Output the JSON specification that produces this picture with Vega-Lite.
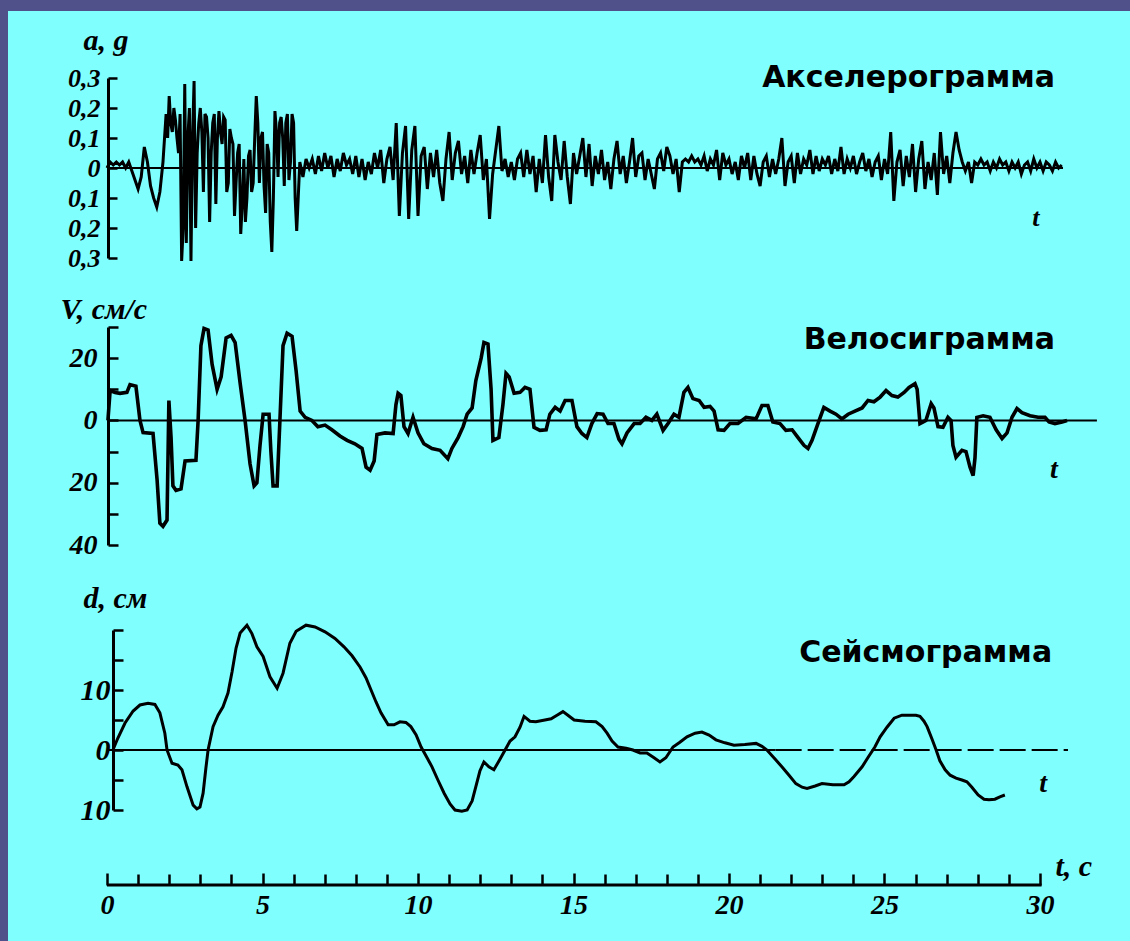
{
"$schema": "https://vega.github.io/schema/vega-lite/v6.json",
"autosize": "none",
"width": 1122,
"height": 930,
"padding": {"left": 8, "top": 11, "right": 0, "bottom": 0},
"background": "#50508a",
"config": {
  "locale": {"number": {"decimal": ",", "thousands": " ", "grouping": [3], "currency": ["", ""], "minus": ""}},
  "view": {"fill": "#80ffff", "stroke": null},
  "axis": {"domainColor": "black", "tickColor": "black", "labelColor": "black", "titleColor": "black", "grid": false,
    "labelFont": "Liberation Serif", "labelFontStyle": "italic", "labelFontWeight": "bold",
    "titleFont": "Liberation Serif", "titleFontStyle": "italic", "titleFontWeight": "bold",
    "domainWidth": 3, "tickWidth": 2.5}
},
"datasets": {
"acc": [
{"t":0,"a":0},{"t":0.1,"a":0.02},{"t":0.2,"a":0.01},{"t":0.3,"a":0.02},{"t":0.4,"a":0.01},{"t":0.5,"a":0.02},{"t":0.6,"a":0},{"t":0.7,"a":0.02},{"t":0.8,"a":-0.01},{"t":0.9,"a":-0.04},
{"t":1.0,"a":-0.07},{"t":1.1,"a":-0.03},{"t":1.2,"a":0.07},{"t":1.3,"a":0.02},{"t":1.4,"a":-0.06},{"t":1.5,"a":-0.1},{"t":1.6,"a":-0.13},{"t":1.7,"a":-0.08},{"t":1.8,"a":0.02},{"t":1.9,"a":0.18},
{"t":1.95,"a":0.1},{"t":2.0,"a":0.24},{"t":2.05,"a":0.15},{"t":2.1,"a":0.12},{"t":2.15,"a":0.2},{"t":2.2,"a":0.16},{"t":2.25,"a":0.1},{"t":2.3,"a":0.05},{"t":2.35,"a":0.18},{"t":2.4,"a":-0.31},{"t":2.45,"a":-0.2},
{"t":2.5,"a":0.28},{"t":2.55,"a":-0.25},{"t":2.6,"a":0.1},{"t":2.65,"a":0.2},{"t":2.7,"a":-0.31},{"t":2.75,"a":0.1},{"t":2.8,"a":0.29},{"t":2.85,"a":-0.2},{"t":2.9,"a":0.05},{"t":2.95,"a":0.15},
{"t":3.0,"a":0.2},{"t":3.05,"a":0.12},{"t":3.1,"a":-0.08},{"t":3.15,"a":0.18},{"t":3.2,"a":0.17},{"t":3.25,"a":0.1},{"t":3.3,"a":-0.18},{"t":3.35,"a":0.05},{"t":3.4,"a":0.15},{"t":3.45,"a":0.18},
{"t":3.5,"a":-0.12},{"t":3.55,"a":0.1},{"t":3.6,"a":0.19},{"t":3.65,"a":0.12},{"t":3.7,"a":0.08},{"t":3.75,"a":0.17},{"t":3.8,"a":0.16},{"t":3.85,"a":-0.08},{"t":3.9,"a":-0.05},{"t":3.95,"a":0.13},
{"t":4.0,"a":0.1},{"t":4.05,"a":0.08},{"t":4.1,"a":-0.16},{"t":4.15,"a":-0.05},{"t":4.2,"a":0.05},{"t":4.25,"a":0.08},{"t":4.3,"a":-0.22},{"t":4.35,"a":-0.12},{"t":4.4,"a":0.03},{"t":4.45,"a":-0.18},
{"t":4.5,"a":-0.1},{"t":4.55,"a":0.04},{"t":4.6,"a":0.06},{"t":4.65,"a":-0.08},{"t":4.7,"a":-0.05},{"t":4.75,"a":0.1},{"t":4.8,"a":0.24},{"t":4.85,"a":0.15},{"t":4.9,"a":-0.05},{"t":4.95,"a":0.1},
{"t":5.0,"a":0.12},{"t":5.05,"a":-0.06},{"t":5.1,"a":-0.15},{"t":5.15,"a":0.08},{"t":5.2,"a":0.05},{"t":5.25,"a":-0.18},{"t":5.3,"a":-0.28},{"t":5.35,"a":-0.1},{"t":5.4,"a":0.19},{"t":5.45,"a":0.12},
{"t":5.5,"a":-0.03},{"t":5.55,"a":0.15},{"t":5.6,"a":0.17},{"t":5.65,"a":0.1},{"t":5.7,"a":-0.06},{"t":5.75,"a":0.15},{"t":5.8,"a":0.18},{"t":5.85,"a":-0.04},{"t":5.9,"a":0.02},{"t":5.95,"a":0.18},
{"t":6.0,"a":0.15},{"t":6.05,"a":-0.1},{"t":6.1,"a":-0.21},{"t":6.2,"a":0.02},{"t":6.3,"a":-0.03},{"t":6.4,"a":0.03},{"t":6.5,"a":0},{"t":6.6,"a":0.03},{"t":6.7,"a":-0.02},{"t":6.8,"a":0.04},{"t":6.9,"a":-0.01},
{"t":7.0,"a":0.05},{"t":7.1,"a":0},{"t":7.2,"a":0.04},{"t":7.3,"a":-0.03},{"t":7.4,"a":0.03},{"t":7.5,"a":-0.01},{"t":7.6,"a":0.05},{"t":7.7,"a":0.01},{"t":7.8,"a":0.03},{"t":7.9,"a":-0.02},
{"t":8.0,"a":0.04},{"t":8.1,"a":-0.03},{"t":8.2,"a":0.03},{"t":8.3,"a":-0.04},{"t":8.4,"a":0.02},{"t":8.5,"a":-0.02},{"t":8.6,"a":0.05},{"t":8.7,"a":0},{"t":8.8,"a":0.06},{"t":8.9,"a":-0.05},
{"t":9.0,"a":0.03},{"t":9.1,"a":0.07},{"t":9.2,"a":-0.04},{"t":9.3,"a":0.15},{"t":9.4,"a":-0.16},{"t":9.5,"a":0.05},{"t":9.6,"a":0.14},{"t":9.7,"a":-0.17},{"t":9.8,"a":0.06},{"t":9.9,"a":0.14},
{"t":10.0,"a":-0.16},{"t":10.1,"a":0.04},{"t":10.2,"a":0.07},{"t":10.3,"a":-0.07},{"t":10.4,"a":0.05},{"t":10.5,"a":-0.03},{"t":10.6,"a":0.06},{"t":10.7,"a":-0.05},{"t":10.8,"a":-0.11},{"t":10.9,"a":0.03},
{"t":11.0,"a":0.12},{"t":11.1,"a":-0.04},{"t":11.2,"a":0.05},{"t":11.3,"a":0.09},{"t":11.4,"a":-0.02},{"t":11.5,"a":0.04},{"t":11.6,"a":-0.05},{"t":11.7,"a":0.06},{"t":11.8,"a":-0.02},{"t":11.9,"a":0.05},
{"t":12.0,"a":0.11},{"t":12.1,"a":-0.04},{"t":12.2,"a":0.03},{"t":12.3,"a":-0.17},{"t":12.4,"a":-0.02},{"t":12.5,"a":0.06},{"t":12.6,"a":0.14},{"t":12.7,"a":-0.01},{"t":12.8,"a":0.03},{"t":12.9,"a":-0.03},
{"t":13.0,"a":0.02},{"t":13.1,"a":-0.04},{"t":13.2,"a":0.03},{"t":13.3,"a":0.05},{"t":13.4,"a":-0.03},{"t":13.5,"a":0.06},{"t":13.6,"a":-0.02},{"t":13.7,"a":0.04},{"t":13.8,"a":-0.08},{"t":13.9,"a":0.03},
{"t":14.0,"a":-0.05},{"t":14.1,"a":0.11},{"t":14.2,"a":-0.03},{"t":14.3,"a":-0.11},{"t":14.4,"a":0.11},{"t":14.5,"a":0.02},{"t":14.6,"a":-0.04},{"t":14.7,"a":0.09},{"t":14.8,"a":-0.03},{"t":14.9,"a":-0.12},
{"t":15.0,"a":0.05},{"t":15.1,"a":-0.02},{"t":15.2,"a":0.04},{"t":15.3,"a":0.1},{"t":15.4,"a":-0.03},{"t":15.5,"a":0.08},{"t":15.6,"a":-0.06},{"t":15.7,"a":0.04},{"t":15.8,"a":-0.02},{"t":15.9,"a":0.06},
{"t":16.0,"a":-0.04},{"t":16.1,"a":0.02},{"t":16.2,"a":-0.07},{"t":16.3,"a":0.03},{"t":16.4,"a":0.09},{"t":16.5,"a":-0.02},{"t":16.6,"a":0.04},{"t":16.7,"a":-0.05},{"t":16.8,"a":0.02},{"t":16.9,"a":0.1},
{"t":17.0,"a":-0.03},{"t":17.1,"a":0.04},{"t":17.2,"a":0.05},{"t":17.3,"a":-0.04},{"t":17.4,"a":0.03},{"t":17.5,"a":-0.02},{"t":17.6,"a":-0.07},{"t":17.7,"a":0.03},{"t":17.8,"a":0.05},{"t":17.9,"a":-0.01},
{"t":18.0,"a":0.07},{"t":18.1,"a":0.04},{"t":18.2,"a":-0.02},{"t":18.3,"a":0.03},{"t":18.4,"a":-0.08},{"t":18.5,"a":0.02},{"t":18.6,"a":0.03},{"t":18.7,"a":0.02},{"t":18.8,"a":0.04},{"t":18.9,"a":0.02},
{"t":19.0,"a":0.03},{"t":19.1,"a":0.01},{"t":19.2,"a":0.04},{"t":19.3,"a":-0.01},{"t":19.4,"a":0.03},{"t":19.5,"a":0.01},{"t":19.6,"a":0.06},{"t":19.7,"a":-0.04},{"t":19.8,"a":0.05},{"t":19.9,"a":0.01},
{"t":20.0,"a":0.03},{"t":20.1,"a":-0.02},{"t":20.2,"a":0.02},{"t":20.3,"a":-0.04},{"t":20.4,"a":0.04},{"t":20.5,"a":0},{"t":20.6,"a":0.05},{"t":20.7,"a":-0.04},{"t":20.8,"a":0.04},{"t":20.9,"a":-0.02},
{"t":21.0,"a":-0.06},{"t":21.1,"a":0.02},{"t":21.2,"a":0.04},{"t":21.3,"a":-0.03},{"t":21.4,"a":0.03},{"t":21.5,"a":-0.02},{"t":21.6,"a":0.03},{"t":21.7,"a":0.1},{"t":21.8,"a":-0.06},{"t":21.9,"a":0.02},
{"t":22.0,"a":0.04},{"t":22.1,"a":-0.05},{"t":22.2,"a":0.05},{"t":22.3,"a":-0.02},{"t":22.4,"a":0.03},{"t":22.5,"a":0.01},{"t":22.6,"a":0.06},{"t":22.7,"a":-0.02},{"t":22.8,"a":0.04},{"t":22.9,"a":-0.01},
{"t":23.0,"a":0.03},{"t":23.1,"a":0.01},{"t":23.2,"a":0.04},{"t":23.3,"a":-0.02},{"t":23.4,"a":0.03},{"t":23.5,"a":-0.01},{"t":23.6,"a":0.07},{"t":23.7,"a":-0.02},{"t":23.8,"a":0.03},{"t":23.9,"a":0},
{"t":24.0,"a":0.04},{"t":24.1,"a":-0.02},{"t":24.2,"a":0.02},{"t":24.3,"a":0.05},{"t":24.4,"a":-0.01},{"t":24.5,"a":0.03},{"t":24.6,"a":-0.03},{"t":24.7,"a":0.02},{"t":24.8,"a":0.04},{"t":24.9,"a":-0.04},
{"t":25.0,"a":0.03},{"t":25.1,"a":-0.02},{"t":25.2,"a":0.12},{"t":25.3,"a":-0.11},{"t":25.4,"a":0.02},{"t":25.5,"a":0.06},{"t":25.6,"a":-0.06},{"t":25.7,"a":0.04},{"t":25.8,"a":-0.03},{"t":25.9,"a":0.08},
{"t":26.0,"a":-0.08},{"t":26.1,"a":0.03},{"t":26.2,"a":0.09},{"t":26.3,"a":-0.07},{"t":26.4,"a":0.02},{"t":26.5,"a":-0.04},{"t":26.6,"a":0.05},{"t":26.7,"a":-0.09},{"t":26.8,"a":0.12},{"t":26.9,"a":-0.02},
{"t":27.0,"a":0.04},{"t":27.1,"a":-0.05},{"t":27.2,"a":0.05},{"t":27.3,"a":0.12},{"t":27.4,"a":0.06},{"t":27.5,"a":0.02},{"t":27.6,"a":-0.01},{"t":27.7,"a":0.02},{"t":27.8,"a":-0.05},{"t":27.9,"a":0.02},
{"t":28.0,"a":0.01},{"t":28.1,"a":0.03},{"t":28.2,"a":0.01},{"t":28.3,"a":0.02},{"t":28.4,"a":-0.01},{"t":28.5,"a":0.02},{"t":28.6,"a":0},{"t":28.7,"a":0.03},{"t":28.8,"a":0.01},{"t":28.9,"a":0.02},
{"t":29.0,"a":-0.01},{"t":29.1,"a":0.02},{"t":29.2,"a":0},{"t":29.3,"a":0.02},{"t":29.4,"a":-0.02},{"t":29.5,"a":0.01},{"t":29.6,"a":0.02},{"t":29.7,"a":-0.01},{"t":29.8,"a":0.03},{"t":29.9,"a":0},
{"t":30.0,"a":0.02},{"t":30.1,"a":-0.01},{"t":30.2,"a":0.02},{"t":30.3,"a":0.01},{"t":30.4,"a":-0.01},{"t":30.5,"a":0.02},{"t":30.6,"a":0},{"t":30.7,"a":0.01}
],
"vel": [
{"t":0.03,"v":0},{"t":0.1,"v":9.6},{"t":0.26,"v":9},{"t":0.42,"v":8.7},{"t":0.64,"v":9},{"t":0.74,"v":11.5},{"t":0.93,"v":11},{"t":1.06,"v":0},{"t":1.16,"v":-3.9},{"t":1.48,"v":-4.2},
{"t":1.61,"v":-19},{"t":1.7,"v":-33},{"t":1.8,"v":-34},{"t":1.93,"v":-32},{"t":1.99,"v":6.4},{"t":2.06,"v":-5.5},{"t":2.12,"v":-21},{"t":2.22,"v":-22.5},{"t":2.38,"v":-22},{"t":2.51,"v":-13},
{"t":2.86,"v":-12.8},{"t":2.93,"v":0},{"t":3.02,"v":24},{"t":3.12,"v":29.5},{"t":3.25,"v":29},{"t":3.38,"v":18},{"t":3.54,"v":10},{"t":3.67,"v":14},{"t":3.83,"v":26.5},{"t":3.99,"v":27.3},
{"t":4.12,"v":25},{"t":4.28,"v":12},{"t":4.44,"v":0},{"t":4.6,"v":-14},{"t":4.73,"v":-21},{"t":4.82,"v":-20},{"t":4.92,"v":-8},{"t":5.02,"v":2},{"t":5.21,"v":2},{"t":5.27,"v":-10},
{"t":5.34,"v":-21},{"t":5.47,"v":-21},{"t":5.56,"v":0},{"t":5.66,"v":24},{"t":5.79,"v":28},{"t":5.95,"v":27},{"t":6.08,"v":16},{"t":6.21,"v":3},{"t":6.37,"v":1},{"t":6.59,"v":0},
{"t":6.78,"v":-2},{"t":7.01,"v":-1.5},{"t":7.23,"v":-3},{"t":7.49,"v":-5},{"t":7.72,"v":-6.4},{"t":7.97,"v":-7.5},{"t":8.2,"v":-9},{"t":8.33,"v":-15},{"t":8.46,"v":-16},{"t":8.59,"v":-13},
{"t":8.68,"v":-4.5},{"t":8.94,"v":-4},{"t":9.2,"v":-4.2},{"t":9.29,"v":5},{"t":9.36,"v":8.7},{"t":9.45,"v":8},{"t":9.55,"v":-2},{"t":9.68,"v":-4.2},{"t":9.84,"v":1},{"t":10.0,"v":-4},
{"t":10.19,"v":-7.5},{"t":10.45,"v":-9},{"t":10.71,"v":-9.6},{"t":10.96,"v":-12.3},{"t":11.09,"v":-9},{"t":11.29,"v":-5.5},{"t":11.45,"v":-2},{"t":11.58,"v":2},{"t":11.74,"v":4},{"t":11.86,"v":12.8},
{"t":12.03,"v":20},{"t":12.12,"v":25},{"t":12.25,"v":24.5},{"t":12.35,"v":10},{"t":12.41,"v":-6.4},{"t":12.6,"v":-5.5},{"t":12.73,"v":5},{"t":12.83,"v":15.1},{"t":12.93,"v":14},{"t":13.09,"v":8.7},
{"t":13.28,"v":9},{"t":13.44,"v":10.6},{"t":13.6,"v":10},{"t":13.73,"v":-2.2},{"t":13.92,"v":-3.2},{"t":14.12,"v":-3},{"t":14.24,"v":2},{"t":14.41,"v":4.2},{"t":14.57,"v":3},{"t":14.73,"v":6.4},
{"t":14.95,"v":6.4},{"t":15.11,"v":-2},{"t":15.27,"v":-4.2},{"t":15.43,"v":-5.5},{"t":15.59,"v":-1},{"t":15.76,"v":2.2},{"t":15.95,"v":2},{"t":16.11,"v":-1},{"t":16.3,"v":-1},{"t":16.46,"v":-6},
{"t":16.56,"v":-7.5},{"t":16.72,"v":-4},{"t":16.95,"v":-1},{"t":17.14,"v":-1},{"t":17.33,"v":1},{"t":17.52,"v":0},{"t":17.68,"v":2},{"t":17.88,"v":-3.2},{"t":18.04,"v":-1},{"t":18.23,"v":2},
{"t":18.39,"v":1},{"t":18.55,"v":9},{"t":18.68,"v":10.6},{"t":18.84,"v":7},{"t":19.04,"v":6.4},{"t":19.2,"v":4.2},{"t":19.39,"v":4.5},{"t":19.52,"v":3},{"t":19.65,"v":-3},{"t":19.84,"v":-3.2},
{"t":20.03,"v":-1},{"t":20.29,"v":-1},{"t":20.55,"v":1},{"t":20.87,"v":0.5},{"t":21.06,"v":4.8},{"t":21.25,"v":4.8},{"t":21.41,"v":-0.5},{"t":21.64,"v":-1},{"t":21.83,"v":-3.2},{"t":22.03,"v":-3},
{"t":22.22,"v":-5.5},{"t":22.41,"v":-8},{"t":22.54,"v":-9},{"t":22.67,"v":-6.4},{"t":22.86,"v":-1},{"t":23.05,"v":4.2},{"t":23.25,"v":3},{"t":23.44,"v":2},{"t":23.63,"v":0.5},{"t":23.83,"v":2},
{"t":24.05,"v":3},{"t":24.28,"v":4},{"t":24.47,"v":6.4},{"t":24.66,"v":6},{"t":24.86,"v":7.5},{"t":25.05,"v":9.6},{"t":25.24,"v":8},{"t":25.43,"v":7.5},{"t":25.63,"v":9},{"t":25.79,"v":10.6},
{"t":25.98,"v":11.8},{"t":26.05,"v":10},{"t":26.14,"v":-1},{"t":26.33,"v":0},{"t":26.5,"v":5.4},{"t":26.59,"v":4},{"t":26.72,"v":-2},{"t":26.88,"v":-2.2},{"t":27.04,"v":1},{"t":27.14,"v":0},
{"t":27.2,"v":-8},{"t":27.3,"v":-11.8},{"t":27.49,"v":-9.6},{"t":27.62,"v":-10},{"t":27.75,"v":-15},{"t":27.85,"v":-17.7},{"t":27.91,"v":-12},{"t":27.97,"v":1},{"t":28.17,"v":1.5},{"t":28.39,"v":1},
{"t":28.59,"v":-3},{"t":28.78,"v":-5.8},{"t":28.94,"v":-4},{"t":29.1,"v":1},{"t":29.26,"v":3.8},{"t":29.42,"v":2.5},{"t":29.68,"v":1.5},{"t":29.94,"v":1},{"t":30.16,"v":1},{"t":30.29,"v":-0.5},
{"t":30.48,"v":-1},{"t":30.71,"v":-0.5},{"t":30.87,"v":0}
],
"dis": [
{"t":0.19,"d":0},{"t":0.35,"d":2},{"t":0.58,"d":4.5},{"t":0.84,"d":6.5},{"t":1.06,"d":7.5},{"t":1.32,"d":7.8},{"t":1.54,"d":7.6},{"t":1.7,"d":6.2},{"t":1.86,"d":2.8},{"t":1.93,"d":0},
{"t":2.09,"d":-2.2},{"t":2.28,"d":-2.5},{"t":2.41,"d":-3.3},{"t":2.57,"d":-6.1},{"t":2.77,"d":-9.2},{"t":2.89,"d":-9.8},{"t":2.99,"d":-9.5},{"t":3.09,"d":-7.2},{"t":3.18,"d":-3},{"t":3.25,"d":0},
{"t":3.41,"d":3.9},{"t":3.57,"d":5.8},{"t":3.73,"d":7.2},{"t":3.89,"d":9.5},{"t":4.02,"d":13},{"t":4.15,"d":17},{"t":4.28,"d":19.5},{"t":4.5,"d":20.8},{"t":4.66,"d":19.4},{"t":4.82,"d":17.2},
{"t":5.02,"d":15.6},{"t":5.24,"d":12.2},{"t":5.47,"d":10.3},{"t":5.66,"d":12.8},{"t":5.88,"d":17.8},{"t":6.08,"d":19.8},{"t":6.4,"d":20.8},{"t":6.69,"d":20.5},{"t":7.01,"d":19.7},{"t":7.33,"d":18.6},
{"t":7.62,"d":17.2},{"t":7.88,"d":15.7},{"t":8.14,"d":13.8},{"t":8.33,"d":12},{"t":8.49,"d":10},{"t":8.65,"d":8},{"t":8.81,"d":6.2},{"t":9.04,"d":4.2},{"t":9.23,"d":4.2},{"t":9.42,"d":4.7},
{"t":9.61,"d":4.6},{"t":9.77,"d":3.9},{"t":9.94,"d":2.5},{"t":10.1,"d":0.5},{"t":10.26,"d":-1},{"t":10.45,"d":-2.8},{"t":10.64,"d":-5},{"t":10.84,"d":-7.2},{"t":11.03,"d":-9},{"t":11.19,"d":-10},
{"t":11.41,"d":-10.2},{"t":11.58,"d":-10},{"t":11.74,"d":-8.5},{"t":11.86,"d":-6.1},{"t":11.99,"d":-3.5},{"t":12.12,"d":-2},{"t":12.28,"d":-2.8},{"t":12.44,"d":-3.3},{"t":12.64,"d":-1.5},{"t":12.8,"d":0},
{"t":12.96,"d":1.5},{"t":13.12,"d":2.2},{"t":13.28,"d":3.8},{"t":13.41,"d":5.6},{"t":13.6,"d":4.8},{"t":13.79,"d":4.7},{"t":14.08,"d":5},{"t":14.28,"d":5.2},{"t":14.47,"d":5.8},{"t":14.66,"d":6.4},
{"t":14.82,"d":5.8},{"t":15.02,"d":5},{"t":15.37,"d":4.8},{"t":15.72,"d":4.7},{"t":15.92,"d":3.9},{"t":16.08,"d":2.8},{"t":16.24,"d":1.5},{"t":16.43,"d":0.5},{"t":16.69,"d":0.3},{"t":16.91,"d":0},
{"t":17.14,"d":-0.5},{"t":17.36,"d":-0.5},{"t":17.59,"d":-1.3},{"t":17.78,"d":-2},{"t":17.97,"d":-1.3},{"t":18.2,"d":0.5},{"t":18.42,"d":1.3},{"t":18.65,"d":2.2},{"t":18.91,"d":2.8},{"t":19.13,"d":3},
{"t":19.36,"d":2.5},{"t":19.58,"d":1.7},{"t":19.87,"d":1.2},{"t":20.16,"d":0.8},{"t":20.51,"d":0.9},{"t":20.87,"d":1.1},{"t":21.06,"d":0.6},{"t":21.22,"d":0},{"t":21.48,"d":-1.5},{"t":21.7,"d":-2.8},
{"t":21.93,"d":-4.2},{"t":22.15,"d":-5.6},{"t":22.35,"d":-6.2},{"t":22.51,"d":-6.4},{"t":22.77,"d":-6},{"t":22.99,"d":-5.6},{"t":23.34,"d":-5.8},{"t":23.7,"d":-5.8},{"t":23.86,"d":-5.3},{"t":24.02,"d":-4.4},
{"t":24.28,"d":-2.8},{"t":24.5,"d":-1},{"t":24.69,"d":0.5},{"t":24.86,"d":2.2},{"t":25.08,"d":3.8},{"t":25.31,"d":5.3},{"t":25.56,"d":5.8},{"t":25.79,"d":5.8},{"t":26.01,"d":5.8},{"t":26.14,"d":5.6},
{"t":26.27,"d":4.8},{"t":26.37,"d":3.9},{"t":26.53,"d":1.8},{"t":26.66,"d":0},{"t":26.78,"d":-1.8},{"t":26.95,"d":-3.3},{"t":27.11,"d":-4.2},{"t":27.3,"d":-4.7},{"t":27.49,"d":-5},{"t":27.65,"d":-5.3},
{"t":27.81,"d":-6.2},{"t":28.01,"d":-7.5},{"t":28.2,"d":-8.2},{"t":28.36,"d":-8.3},{"t":28.55,"d":-8.2},{"t":28.71,"d":-7.8},{"t":28.87,"d":-7.5}
]
},
"layer": [
 {"layer": [
  {"data": {"name": "acc"},
   "mark": {"type": "line", "color": "black", "strokeWidth": 3},
   "encoding": {
    "x": {"field": "t", "type": "quantitative", "scale": {"domain": [-3.1833, 32.8939], "nice": false, "zero": false},
      "axis": {"orient": "bottom", "offset": -56, "values": [0,5,10,15,20,25,30], "domain": false, "labelFlush": false, "labelOverlap": false,
        "format": "d", "tickSize": -12, "labelFontSize": 28, "labelPadding": 18,
        "title": "t, с", "titleFontSize": 30, "titleAngle": 0, "titleAlign": "left", "titleBaseline": "middle", "titleX": 1047, "titleY": -19}},
    "y": {"field": "a", "type": "quantitative", "scale": {"domain": [-0.3, 0.3], "range": [247, 67], "nice": false, "zero": false},
      "axis": {"orient": "left", "offset": -100, "values": [-0.3,-0.2,-0.1,0,0.1,0.2,0.3], "format": ".1~f",
        "tickSize": -9, "labelFontSize": 26, "labelPadding": 17,
        "title": "a, g", "titleFontSize": 30, "titleAngle": 0, "titleAlign": "left", "titleBaseline": "middle", "titleX": -25, "titleY": 29}}
   }},
  {"data": {"values": [{}]},
   "mark": {"type": "rule", "color": "black", "strokeWidth": 2},
   "encoding": {
    "x": {"datum": 0, "type": "quantitative", "scale": {"domain": [-3.1833, 32.8939], "nice": false, "zero": false}, "axis": null},
    "x2": {"datum": 30.74},
    "y": {"datum": 0, "type": "quantitative", "scale": {"domain": [-0.3, 0.3], "range": [247, 67], "nice": false, "zero": false}, "axis": null}
   }},
  {"data": {"values": [{}]},
   "mark": {"type": "text", "align": "right", "baseline": "middle", "font": "DejaVu Sans", "fontWeight": "bold", "fontSize": 30, "color": "black"},
   "encoding": {
    "x": {"datum": 30.48, "type": "quantitative", "scale": {"domain": [-3.1833, 32.8939], "nice": false, "zero": false}, "axis": null},
    "y": {"datum": 0.3, "type": "quantitative", "scale": {"domain": [-0.3, 0.3], "range": [247, 67], "nice": false, "zero": false}, "axis": null},
    "text": {"value": "Акселерограмма"}
   }},
  {"data": {"values": [{}]},
   "mark": {"type": "text", "align": "center", "baseline": "middle", "font": "Liberation Serif", "fontStyle": "italic", "fontWeight": "bold", "fontSize": 26, "color": "black"},
   "encoding": {
    "x": {"datum": 29.87, "type": "quantitative", "scale": {"domain": [-3.1833, 32.8939], "nice": false, "zero": false}, "axis": null},
    "y": {"datum": -0.167, "type": "quantitative", "scale": {"domain": [-0.3, 0.3], "range": [247, 67], "nice": false, "zero": false}, "axis": null},
    "text": {"value": "t"}
   }}
 ], "resolve": {"axis": {"x": "independent", "y": "independent"}}},
 {"layer": [
  {"data": {"name": "vel"},
   "mark": {"type": "line", "color": "black", "strokeWidth": 3.6},
   "encoding": {
    "x": {"field": "t", "type": "quantitative", "scale": {"domain": [-3.1833, 32.8939], "nice": false, "zero": false},
      "axis": {"orient": "bottom", "offset": -56, "values": [1,2,3,4,6,7,8,9,11,12,13,14,16,17,18,19,21,22,23,24,26,27,28,29],
        "labels": false, "domain": false, "labelFlush": false, "labelOverlap": false, "tickSize": -11, "title": null}},
    "y": {"field": "v", "type": "quantitative", "scale": {"domain": [-40, 30], "range": [534, 316], "nice": false, "zero": false},
      "axis": {"orient": "left", "offset": -100, "values": [-40,-20,0,20], "format": "d",
        "tickSize": -10, "labelFontSize": 28, "labelPadding": 21,
        "title": "V, см/с", "titleFontSize": 30, "titleAngle": 0, "titleAlign": "left", "titleBaseline": "middle", "titleX": -48, "titleY": 298}}
   }},
  {"data": {"values": [{}]},
   "mark": {"type": "rule", "color": "black", "strokeWidth": 2},
   "encoding": {
    "x": {"datum": 0, "type": "quantitative", "scale": {"domain": [-3.1833, 32.8939], "nice": false, "zero": false}, "axis": null},
    "x2": {"datum": 31.83},
    "y": {"datum": 0, "type": "quantitative", "scale": {"domain": [-40, 30], "range": [534, 316], "nice": false, "zero": false},
      "axis": {"orient": "left", "offset": -100, "values": [-30,-10,10,30], "labels": false, "domain": false, "tickSize": -10, "title": null}}
   }},
  {"data": {"values": [{}]},
   "mark": {"type": "text", "align": "right", "baseline": "middle", "font": "DejaVu Sans", "fontWeight": "bold", "fontSize": 30, "color": "black"},
   "encoding": {
    "x": {"datum": 30.48, "type": "quantitative", "scale": {"domain": [-3.1833, 32.8939], "nice": false, "zero": false}, "axis": null},
    "y": {"datum": 25.7, "type": "quantitative", "scale": {"domain": [-40, 30], "range": [534, 316], "nice": false, "zero": false}, "axis": null},
    "text": {"value": "Велосиграмма"}
   }},
  {"data": {"values": [{}]},
   "mark": {"type": "text", "align": "center", "baseline": "middle", "font": "Liberation Serif", "fontStyle": "italic", "fontWeight": "bold", "fontSize": 28, "color": "black"},
   "encoding": {
    "x": {"datum": 30.45, "type": "quantitative", "scale": {"domain": [-3.1833, 32.8939], "nice": false, "zero": false}, "axis": null},
    "y": {"datum": -16, "type": "quantitative", "scale": {"domain": [-40, 30], "range": [534, 316], "nice": false, "zero": false}, "axis": null},
    "text": {"value": "t"}
   }}
 ], "resolve": {"axis": {"x": "independent", "y": "independent"}}},
 {"layer": [
  {"data": {"name": "dis"},
   "mark": {"type": "line", "color": "black", "strokeWidth": 3},
   "encoding": {
    "x": {"field": "t", "type": "quantitative", "scale": {"domain": [-3.1833, 32.8939], "nice": false, "zero": false}, "axis": null},
    "y": {"field": "d", "type": "quantitative", "scale": {"domain": [-10, 20], "range": [799, 619], "nice": false, "zero": false},
      "axis": {"orient": "left", "offset": -105, "values": [-10,0,10], "format": "d",
        "tickSize": -10, "labelFontSize": 30, "labelPadding": 13,
        "title": "d, см", "titleFontSize": 30, "titleAngle": 0, "titleAlign": "left", "titleBaseline": "middle", "titleX": -30, "titleY": 587}}
   }},
  {"data": {"values": [{}]},
   "mark": {"type": "rule", "color": "black", "strokeWidth": 2},
   "encoding": {
    "x": {"datum": 0, "type": "quantitative", "scale": {"domain": [-3.1833, 32.8939], "nice": false, "zero": false}, "axis": null},
    "x2": {"datum": 21.5},
    "y": {"datum": 0, "type": "quantitative", "scale": {"domain": [-10, 20], "range": [799, 619], "nice": false, "zero": false},
      "axis": {"orient": "left", "offset": -105, "values": [-5,5,15,20], "labels": false, "domain": false, "tickSize": -10, "title": null}}
   }},
  {"data": {"values": [{}]},
   "mark": {"type": "rule", "color": "black", "strokeWidth": 2, "strokeDash": [26, 6]},
   "encoding": {
    "x": {"datum": 21.5, "type": "quantitative", "scale": {"domain": [-3.1833, 32.8939], "nice": false, "zero": false}, "axis": null},
    "x2": {"datum": 30.9},
    "y": {"datum": 0, "type": "quantitative", "scale": {"domain": [-10, 20], "range": [799, 619], "nice": false, "zero": false}, "axis": null}
   }},
  {"data": {"values": [{}]},
   "mark": {"type": "rule", "color": "black", "strokeWidth": 3},
   "encoding": {
    "x": {"datum": 0, "type": "quantitative", "scale": {"domain": [-3.1833, 32.8939], "nice": false, "zero": false}, "axis": null},
    "x2": {"datum": 30.05},
    "y": {"datum": -22.5, "type": "quantitative", "scale": {"domain": [-10, 20], "range": [799, 619], "nice": false, "zero": false}, "axis": null}
   }},
  {"data": {"values": [{}]},
   "mark": {"type": "text", "align": "right", "baseline": "middle", "font": "DejaVu Sans", "fontWeight": "bold", "fontSize": 30, "color": "black"},
   "encoding": {
    "x": {"datum": 30.39, "type": "quantitative", "scale": {"domain": [-3.1833, 32.8939], "nice": false, "zero": false}, "axis": null},
    "y": {"datum": 16.2, "type": "quantitative", "scale": {"domain": [-10, 20], "range": [799, 619], "nice": false, "zero": false}, "axis": null},
    "text": {"value": "Сейсмограмма"}
   }},
  {"data": {"values": [{}]},
   "mark": {"type": "text", "align": "center", "baseline": "middle", "font": "Liberation Serif", "fontStyle": "italic", "fontWeight": "bold", "fontSize": 28, "color": "black"},
   "encoding": {
    "x": {"datum": 30.1, "type": "quantitative", "scale": {"domain": [-3.1833, 32.8939], "nice": false, "zero": false}, "axis": null},
    "y": {"datum": -5.7, "type": "quantitative", "scale": {"domain": [-10, 20], "range": [799, 619], "nice": false, "zero": false}, "axis": null},
    "text": {"value": "t"}
   }}
 ], "resolve": {"axis": {"x": "independent", "y": "independent"}}}
],
"resolve": {"scale": {"y": "independent"}, "axis": {"y": "independent", "x": "independent"}}
}
